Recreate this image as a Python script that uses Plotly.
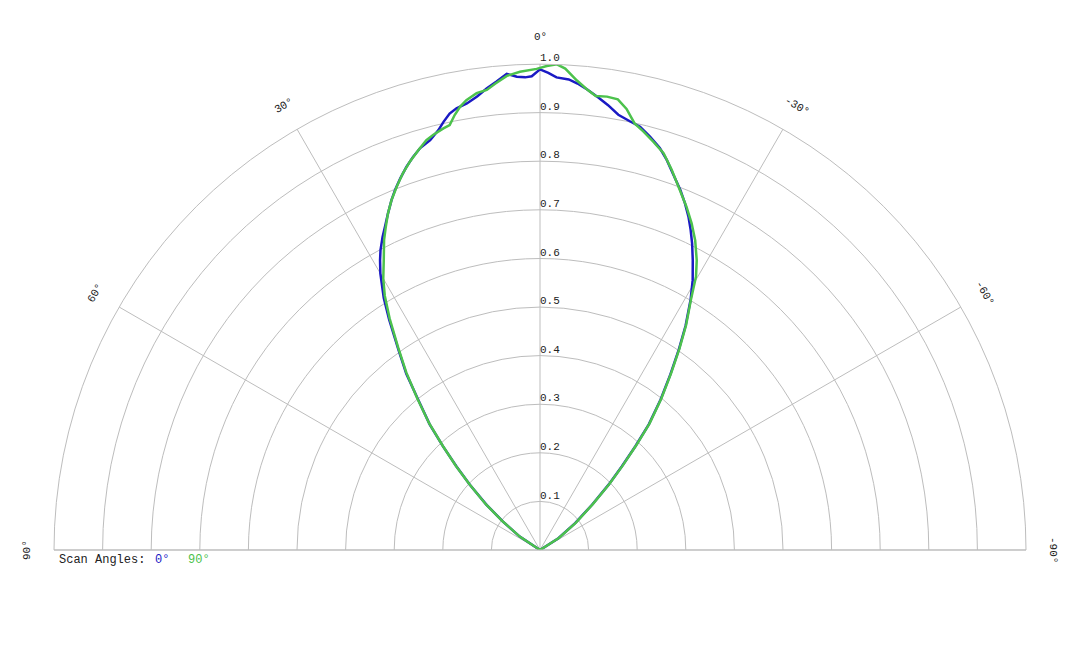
import math
import plotly.graph_objects as go

# scan angle 0 deg (blue), theta in degrees, + is to the left
theta_0 = [90, 60, 56.5, 52.5, 49.8, 47.1, 45.0, 43.1, 41.3, 39.0, 37.2, 35.2, 33.2,
           31.8, 30.0, 28.9, 28.0, 26.7, 25.6, 24.3, 23.0, 21.9, 20.6, 19.2, 17.9,
           16.6, 15.0, 13.6, 12.7, 11.7, 10.7, 9.3, 7.9, 6.6, 5.3, 4.0, 2.8, 1.8,
           1.0, 0.0, -1.0, -2.0, -3.5, -4.6, -5.9, -7.3, -8.7, -10.2, -11.9, -13.3,
           -14.9, -16.6, -18.0, -19.6, -21.3, -22.7, -24.0, -25.2, -26.4, -27.8,
           -29.5, -31.0, -33.0, -34.7, -36.6, -38.7, -40.9, -42.6, -44.4, -46.4,
           -49.0, -52.7, -57.4, -60, -90]
r_0 = [0, 0, 0.050, 0.096, 0.144, 0.197, 0.243, 0.292, 0.344, 0.399, 0.455, 0.506, 0.567,
       0.610, 0.657, 0.681, 0.699, 0.721, 0.738, 0.760, 0.782, 0.799, 0.817, 0.835, 0.850,
       0.863, 0.873, 0.889, 0.903, 0.917, 0.925, 0.931, 0.942, 0.956, 0.968, 0.982, 0.975, 0.973,
       0.975, 0.989, 0.982, 0.973, 0.970, 0.963, 0.952, 0.939, 0.926, 0.910, 0.901, 0.895,
       0.880, 0.863, 0.844, 0.819, 0.795, 0.773, 0.751, 0.728, 0.704, 0.674,
       0.638, 0.602, 0.550, 0.502, 0.450, 0.397, 0.342, 0.290, 0.241, 0.195,
       0.142, 0.091, 0.045, 0, 0]

# scan angle 90 deg (green)
theta_90 = [90, 60, 56.5, 52.5, 49.8, 47.0, 45.0, 43.0, 41.2, 39.0, 37.0, 35.0, 33.0,
            31.4, 30.0, 28.4, 26.7, 25.5, 24.3, 23.0, 21.5, 20.0, 18.5, 16.9, 15.5,
            14.4, 12.9, 12.0, 11.1, 10.2, 9.3, 7.9, 6.6, 5.5, 4.0, 2.4, 0.4,
            -0.8, -2.0, -3.0, -4.5, -5.8, -7.0, -8.4, -9.8, -11.1, -12.5, -13.9, -15.5,
            -17.3, -19.1, -21.2, -23.1, -24.9, -26.6, -28.4, -29.7, -31.0, -33.0, -34.7,
            -36.6, -38.7, -40.9, -42.6, -44.4, -46.4, -49.0, -52.7, -57.4, -60, -90]
r_90 = [0, 0, 0.050, 0.097, 0.146, 0.199, 0.245, 0.294, 0.346, 0.401, 0.457, 0.509, 0.568,
        0.613, 0.645, 0.676, 0.714, 0.737, 0.760, 0.782, 0.804, 0.825, 0.843, 0.860, 0.875,
        0.882, 0.890, 0.894, 0.912, 0.927, 0.938, 0.949, 0.953, 0.964, 0.978, 0.985, 0.990,
        0.996, 1.000, 0.992, 0.969, 0.953, 0.941, 0.943, 0.941, 0.925, 0.899, 0.887, 0.872,
        0.855, 0.828, 0.795, 0.768, 0.741, 0.713, 0.678, 0.648, 0.604, 0.552, 0.504,
        0.452, 0.399, 0.344, 0.292, 0.243, 0.197, 0.144, 0.093, 0.046, 0, 0]

radial_ticks = [0.1, 0.2, 0.3, 0.4, 0.5, 0.6, 0.7, 0.8, 0.9, 1.0]
radial_labels = ["0.1", "0.2", "0.3", "0.4", "0.5", "0.6", "0.7", "0.8", "0.9", "1.0"]
angle_ticks = [90, 60, 30, 0, -30, -60, -90]
angle_labels = ["90°", "60°", "30°", "0°", "-30°", "-60°", "-90°"]

BLUE = "#1a1ac4"
GREEN = "#4cc24c"
GRID = "#bdbdbd"
MONO = "Liberation Mono, Courier New, monospace"

W, H = 1080, 648
# page body adds an 8px margin, so work 8px up/left of the screen position
OFF = 8
CX, CY, RAD = 540 - OFF, 550 - OFF, 486

fig = go.Figure()
fig.add_trace(go.Scatterpolar(r=r_0, theta=theta_0, mode="lines",
                              line=dict(color=BLUE, width=2.5), name="0°"))
fig.add_trace(go.Scatterpolar(r=r_90, theta=theta_90, mode="lines",
                              line=dict(color=GREEN, width=2.5), name="90°"))
fig.add_trace(go.Scatterpolar(r=radial_ticks, theta=[0] * len(radial_ticks), mode="text",
                              text=radial_labels, textposition="top right",
                              textfont=dict(family=MONO, size=11, color="#222222"),
                              hoverinfo="skip"))

# rotated angle labels just outside the outer ring
annotations = []
for a, lab in zip(angle_ticks, angle_labels):
    px = CX - (RAD + 27) * math.sin(math.radians(a))
    py = CY - (RAD + 27) * math.cos(math.radians(a))
    annotations.append(dict(x=px / W, y=1 - py / H, xref="paper", yref="paper",
                            text=lab, showarrow=False, textangle=-a,
                            xanchor="center", yanchor="middle",
                            font=dict(family=MONO, size=11, color="#222222")))

# legend as coloured text
for txt, col, x0 in [("Scan Angles:", "#222222", 57), ("0°", BLUE, 153), ("90°", GREEN, 186)]:
    annotations.append(dict(x=(x0 - OFF) / W, y=1 - (560 - OFF) / H, xref="paper", yref="paper",
                            text=txt, showarrow=False, xanchor="left", yanchor="middle",
                            font=dict(family=MONO, size=12, color=col)))

fig.update_layout(
    width=W, height=H,
    paper_bgcolor="white",
    plot_bgcolor="white",
    showlegend=False,
    margin=dict(l=0, r=0, t=0, b=0),
    annotations=annotations,
    polar=dict(
        domain=dict(x=[(CX - RAD) / W, (CX + RAD) / W], y=[(H - CY) / H, (H - CY + RAD) / H]),
        sector=[0, 180],
        bgcolor="white",
        angularaxis=dict(rotation=90, direction="counterclockwise",
                         tickmode="array", tickvals=angle_ticks,
                         showticklabels=False, ticks="",
                         showgrid=True, gridcolor=GRID, gridwidth=1,
                         showline=True, linecolor=GRID, linewidth=1),
        radialaxis=dict(range=[0, 1], tickmode="array", tickvals=radial_ticks,
                        showticklabels=False, ticks="", showline=False,
                        showgrid=True, gridcolor=GRID, gridwidth=1),
    ),
)

fig.write_html("out.html")
